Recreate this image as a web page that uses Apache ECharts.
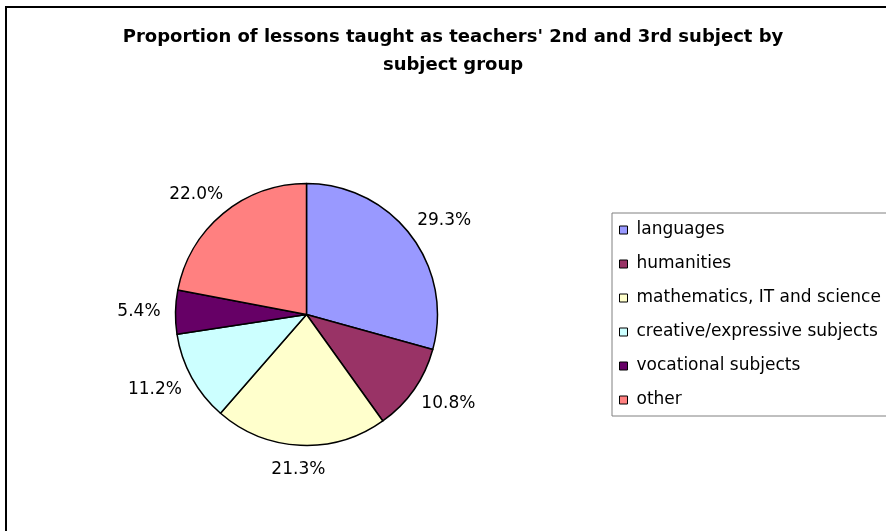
<!DOCTYPE html>
<html>
<head>
<meta charset="utf-8">
<script src="https://cdn.jsdelivr.net/npm/echarts@6/dist/echarts.min.js"></script>
<style>
    html, body { margin: 0; padding: 0; background: #fff; }
    #pie { width: 886px; height: 531px; }
</style>
</head>
<body>
<div id="pie"></div>
<script>
// data
var categories = ['languages', 'humanities', 'mathematics, IT and science', 'creative/expressive subjects', 'vocational subjects', 'other'];
var shares = [29.3, 10.8, 21.3, 11.2, 5.4, 22.0];
var palette = ['#9999FF', '#993366', '#FFFFCC', '#CCFFFF', '#660066', '#FF8080'];

var cx = 306.5, cy = 314.5, R = 131;

var chart = echarts.init(document.getElementById('pie'));

var total = 0;
for (var k = 0; k < shares.length; k++) total += shares[k];

// excel-like label spot: just outside the slice, middle of the slice
function placeLabel(params) {
    var i = params.dataIndex;
    var start = 0;
    for (var j = 0; j < i; j++) start += shares[j];
    var mid = (start + shares[i] / 2) / total * Math.PI * 2;
    var dx = Math.sin(mid), dy = -Math.cos(mid);
    var g = 15;
    var w = params.labelRect.width, h = 18;
    return {
        x: cx + dx * (R + g) + dx * w / 2,
        y: cy + dy * (R + g) + dy * h / 2,
        align: 'center',
        verticalAlign: 'middle'
    };
}

var option = {
    animation: false,
    color: palette,
    title: {
        text: "Proportion of lessons taught as teachers' 2nd and 3rd subject by\nsubject group",
        left: 453,
        top: 23,
        textAlign: 'center',
        padding: 0,
        textStyle: {
            fontFamily: 'DejaVu Sans',
            fontWeight: 'bold',
            fontSize: 18,
            lineHeight: 28,
            color: '#000'
        }
    },
    legend: {
        orient: 'vertical',
        left: 612,
        top: 213,
        icon: 'rect',
        itemWidth: 8,
        itemHeight: 8,
        itemGap: 14,
        padding: [7, 30, 6, 7],
        borderColor: '#808080',
        borderWidth: 1,
        itemStyle: { borderColor: '#000', borderWidth: 1 },
        textStyle: {
            fontFamily: 'DejaVu Sans',
            fontSize: 17,
            lineHeight: 20,
            color: '#000',
            padding: [0, 0, 0, 4]
        },
        data: categories
    },
    graphic: [
        {
            type: 'rect',
            shape: { x: 6, y: 7, width: 1000, height: 1000 },
            style: { fill: 'none', stroke: '#000', lineWidth: 2 },
            silent: true
        }
    ],
    series: [
        {
            name: 'share',
            type: 'pie',
            center: [cx, cy],
            radius: R,
            startAngle: 90,
            clockwise: true,
            avoidLabelOverlap: false,
            emphasis: { disabled: true },
            itemStyle: { borderColor: '#000', borderWidth: 1.5 },
            label: {
                show: true,
                position: 'outside',
                formatter: function (p) { return shares[p.dataIndex].toFixed(1) + '%'; },
                fontFamily: 'DejaVu Sans',
                fontSize: 17,
                color: '#000'
            },
            labelLine: { show: false },
            labelLayout: placeLabel,
            data: categories.map(function (name, i) {
                return { name: name, value: shares[i] };
            })
        }
    ]
};

chart.setOption(option);
</script>
</body>
</html>
